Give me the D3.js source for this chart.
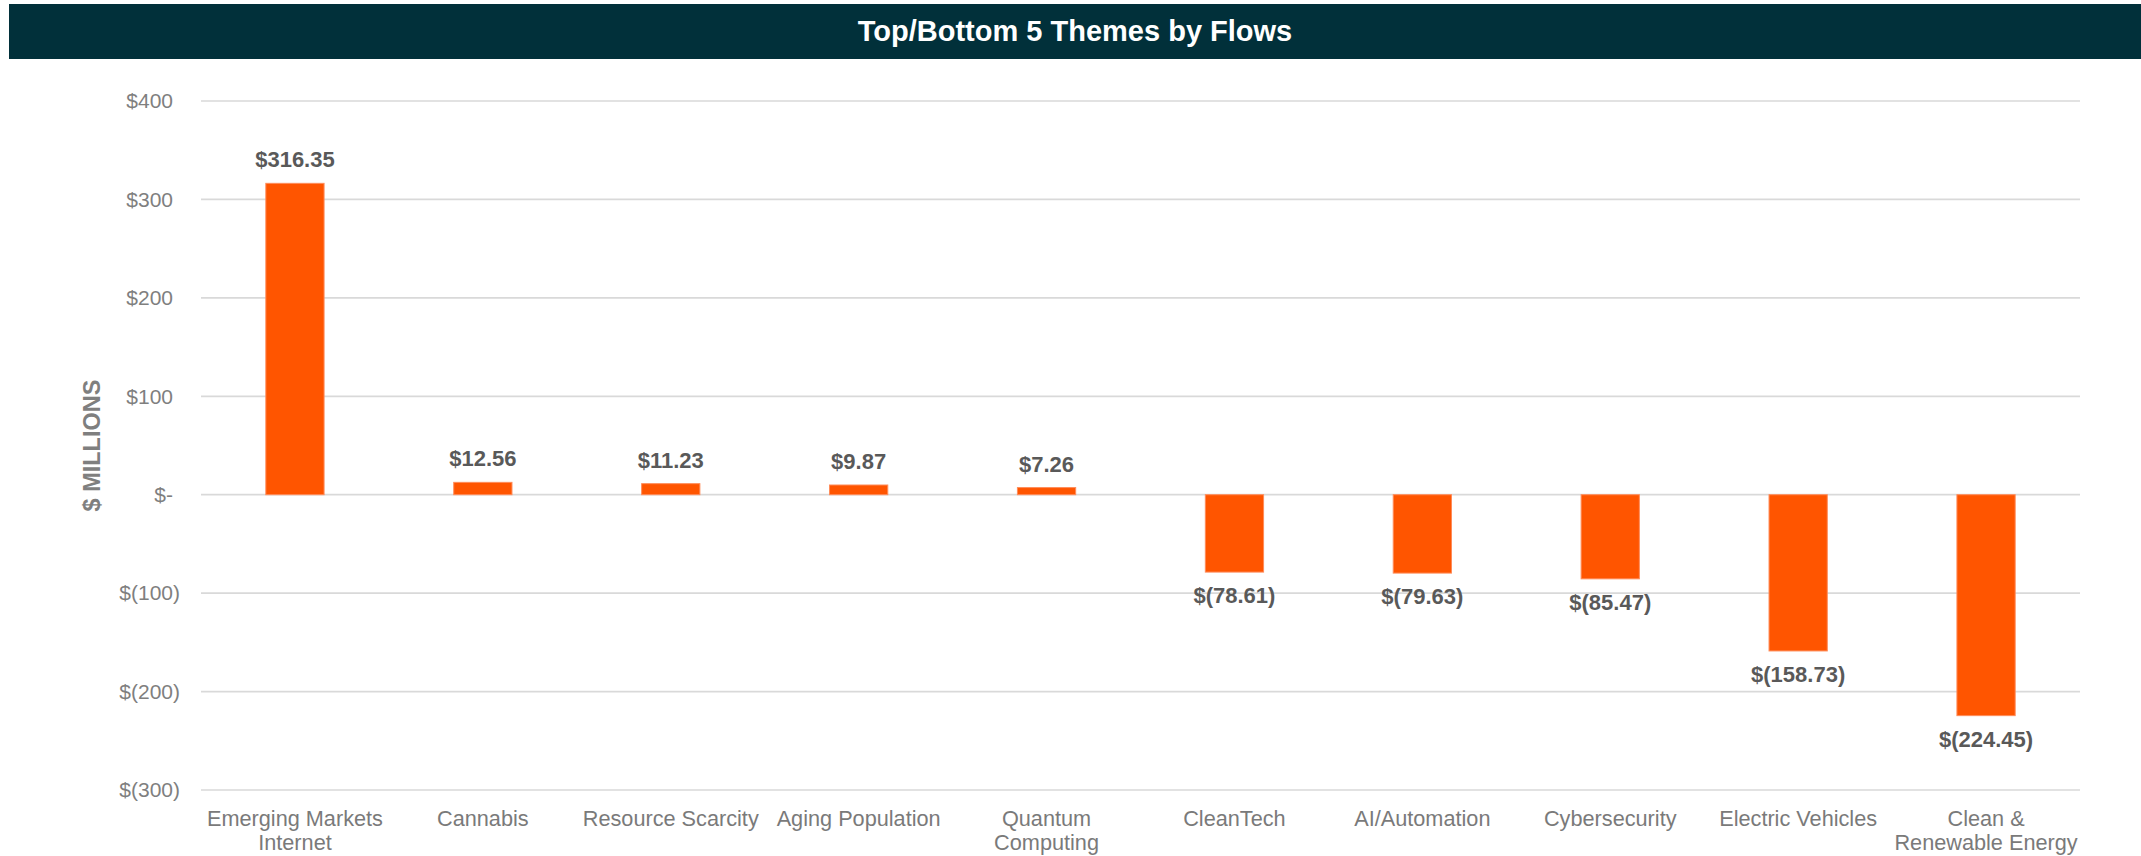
<!DOCTYPE html>
<html>
<head>
<meta charset="utf-8">
<script src="https://cdn.jsdelivr.net/npm/d3@7"></script>
<style>
  html, body { margin: 0; padding: 0; background: #ffffff; }
  svg { display: block; font-family: "Liberation Sans", Arial, sans-serif; }
</style>
</head>
<body>
<svg id="chart" width="2141" height="856"></svg>
<script>
const chartTitle = "Top/Bottom 5 Themes by Flows";
const yAxisTitle = "$ MILLIONS";
const categories = [
  "Emerging Markets\nInternet", "Cannabis", "Resource Scarcity", "Aging Population",
  "Quantum\nComputing", "CleanTech", "AI/Automation", "Cybersecurity",
  "Electric Vehicles", "Clean &\nRenewable Energy"
];
const flows = [316.35, 12.56, 11.23, 9.87, 7.26, -78.61, -79.63, -85.47, -158.73, -224.45];
const yTicks = [400, 300, 200, 100, 0, -100, -200, -300];
const yDomain = [-300, 400];

const svg = d3.select("#chart");
const W = 2141, H = 856;
const plot = { left: 201, right: 2080, top: 101, bottom: 790 };

// Title bar
svg.append("rect").attr("x", 9).attr("y", 4).attr("width", W - 9).attr("height", 55)
  .attr("fill", "#01303a");
svg.append("text").attr("x", (9 + W) / 2).attr("y", 41)
  .attr("text-anchor", "middle").attr("fill", "#ffffff")
  .attr("font-size", 29).attr("font-weight", "bold").text(chartTitle);

const x = d3.scaleBand().domain(categories).range([plot.left, plot.right])
  .paddingInner(0.69).paddingOuter(0.345);
const y = d3.scaleLinear().domain(yDomain).range([plot.bottom, plot.top]);

// Gridlines
svg.append("g").selectAll("line").data(yTicks).join("line")
  .attr("x1", plot.left).attr("x2", plot.right)
  .attr("y1", d => y(d)).attr("y2", d => y(d))
  .attr("stroke", "#d9d9d9").attr("stroke-width", 1.7);

// Y axis labels
const fmtAxis = d => d === 0 ? "$-" : (d < 0 ? "$(" + Math.abs(d) + ")" : "$" + d);
const yAxis = d3.axisLeft(y).tickValues(yTicks).tickFormat(fmtAxis).tickSize(0).tickPadding(0);
const yg = svg.append("g").attr("transform", `translate(${plot.left - 28},0)`).call(yAxis);
yg.select(".domain").remove();
yg.selectAll("text").attr("font-size", 21).attr("fill", "#7f7f7f")
  .attr("font-family", "'Liberation Sans', Arial, sans-serif")
  .attr("dx", d => d < 0 ? 7 : 0);

// Y axis title
svg.append("text").attr("transform", `translate(100,${(plot.top + plot.bottom) / 2}) rotate(-90)`)
  .attr("text-anchor", "middle").attr("font-size", 23.5).attr("font-weight", "bold")
  .attr("fill", "#7f7f7f").text(yAxisTitle);

// Bars
svg.append("g").selectAll("rect").data(flows).join("rect")
  .attr("x", (d, i) => x(categories[i]))
  .attr("width", x.bandwidth())
  .attr("y", d => y(Math.max(0, d)))
  .attr("height", d => Math.abs(y(d) - y(0)))
  .attr("fill", "#ff5500").attr("stroke", "#ff8c5a").attr("stroke-width", 1);

// Data labels
const fmtVal = d => d < 0 ? "$(" + Math.abs(d).toFixed(2) + ")" : "$" + d.toFixed(2);
svg.append("g").selectAll("text").data(flows).join("text")
  .attr("x", (d, i) => x(categories[i]) + x.bandwidth() / 2)
  .attr("y", d => d >= 0 ? y(d) - 16 : y(d) + 31)
  .attr("text-anchor", "middle").attr("font-size", 22).attr("font-weight", "bold")
  .attr("fill", "#595959").text(fmtVal);

// Category labels
const cg = svg.append("g");
categories.forEach((c, i) => {
  const cx = x(c) + x.bandwidth() / 2;
  const t = cg.append("text").attr("x", cx).attr("y", 826)
    .attr("text-anchor", "middle").attr("font-size", 21.7).attr("fill", "#7a7a7a");
  c.split("\n").forEach((l, k) => {
    t.append("tspan").attr("x", cx).attr("dy", k === 0 ? 0 : 24).text(l);
  });
});
</script>
</body>
</html>
